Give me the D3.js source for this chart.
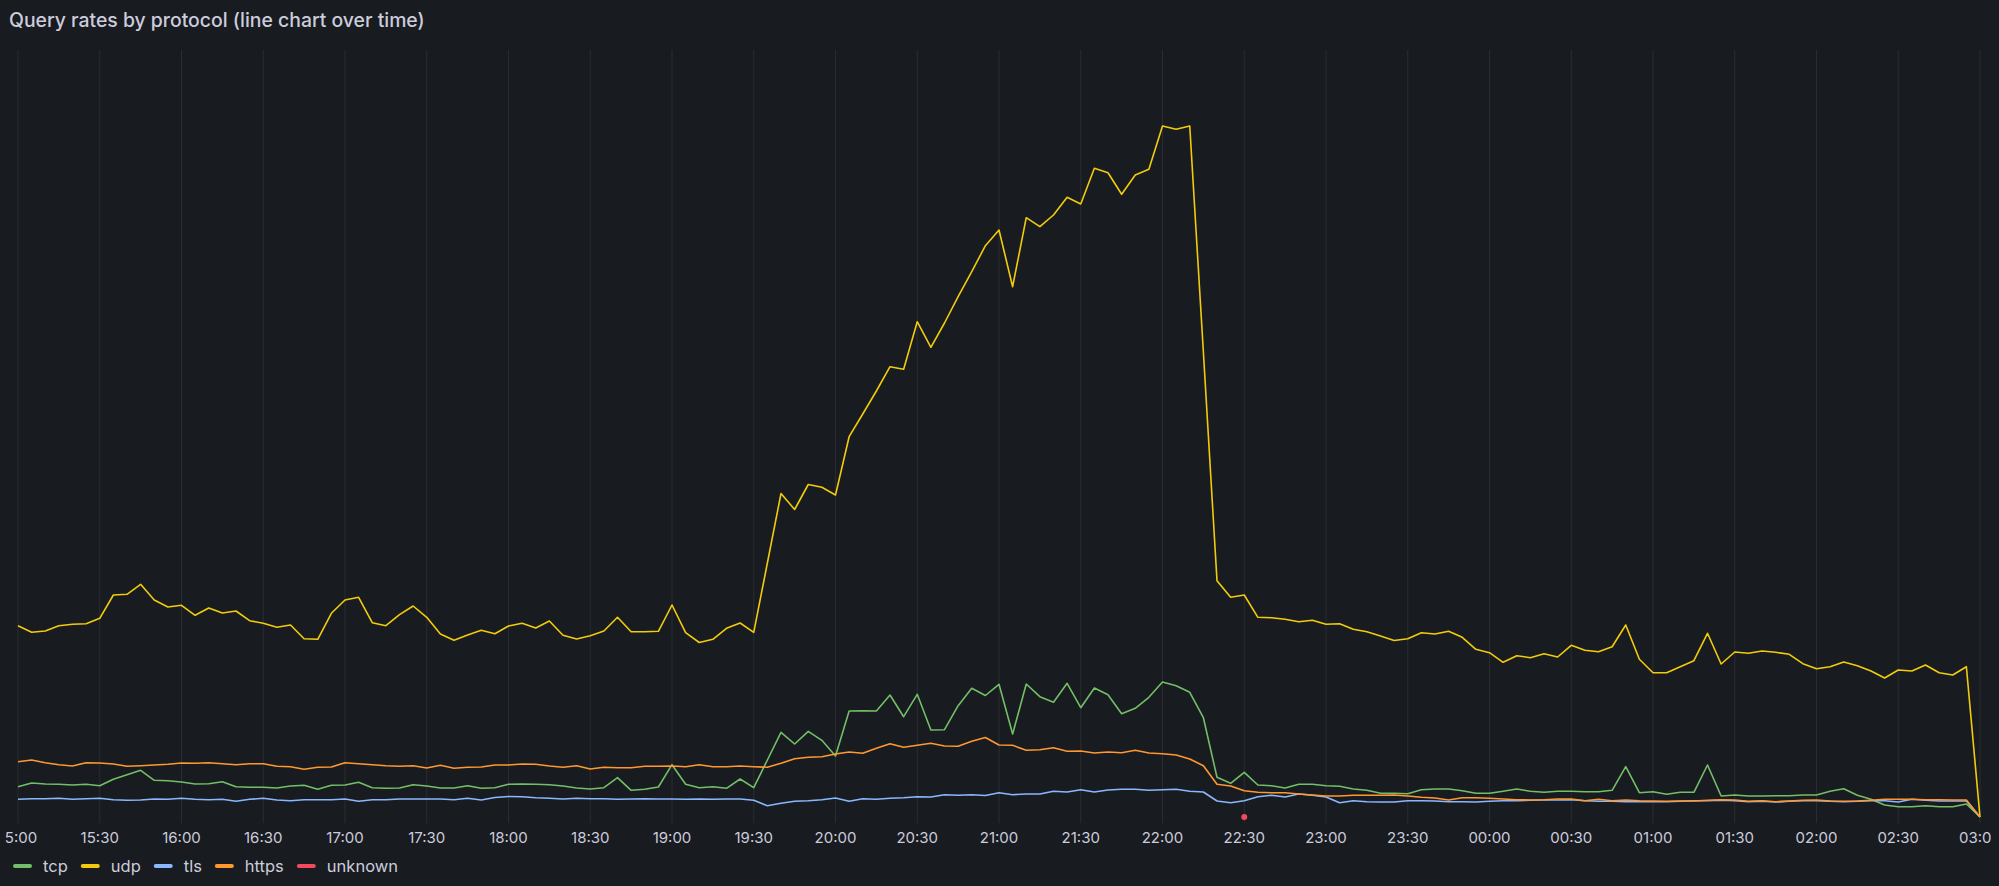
<!DOCTYPE html>
<html>
<head>
<meta charset="utf-8">
<script src="https://cdn.jsdelivr.net/npm/d3@7"></script>
<style>
  html, body { margin: 0; padding: 0; background: #181b1f; }
  svg { display: block; font-family: Inter, "Noto Sans", sans-serif; }
</style>
</head>
<body>
<svg id="chart"></svg>
<script>
// 5 minute samples, 15:00 -> 03:00 next day (145 points)
const startTime = new Date(2024, 0, 1, 15, 0);
const stepMinutes = 5;

const tcp = [
  303, 340, 330, 327, 320, 327, 313, 377, 423, 467, 367, 363, 350, 330, 333, 353, 303, 297, 297, 290,
  310, 317, 277, 317, 320, 347, 293, 287, 290, 323, 310, 290, 290, 313, 287, 293, 327, 330, 327, 323,
  310, 290, 280, 293, 393, 267, 277, 300, 523, 327, 293, 303, 287, 380, 293, 570, 847, 730, 857, 767,
  610, 1060, 1063, 1060, 1220, 1003, 1227, 870, 873, 1113, 1287, 1215, 1327, 830, 1330, 1203, 1147, 1337, 1093, 1290,
  1223, 1033, 1087, 1197, 1350, 1313, 1247, 993, 397, 337, 447, 320, 313, 290, 327, 327, 313, 307, 280, 267,
  237, 237, 233, 273, 280, 280, 263, 238, 237, 257, 280, 257, 247, 257, 257, 253, 253, 267, 503, 243,
  253, 227, 247, 247, 520, 210, 220, 210, 210, 213, 213, 220, 220, 257, 283, 217, 177, 120, 103, 103,
  113, 103, 103, 130, 0
];

const udp = [
  1913, 1847, 1860, 1913, 1927, 1933, 1987, 2220, 2227, 2327, 2170, 2100, 2117, 2017, 2090, 2040, 2060, 1963, 1937, 1897,
  1920, 1783, 1777, 2037, 2170, 2197, 1943, 1913, 2023, 2110, 1997, 1830, 1767, 1820, 1867, 1833, 1910, 1937, 1890, 1960,
  1817, 1780, 1813, 1860, 1997, 1853, 1853, 1857, 2120, 1843, 1745, 1777, 1887, 1940, 1847, 2540, 3235, 3075, 3325, 3297,
  3220, 3803, 4030, 4260, 4503, 4477, 4953, 4697, 4940, 5203, 5453, 5713, 5870, 5303, 5993, 5903, 6020, 6197, 6130, 6487,
  6443, 6227, 6420, 6477, 6910, 6877, 6910, 4650, 2363, 2197, 2220, 1997, 1993, 1977, 1953, 1967, 1927, 1933, 1877, 1853,
  1810, 1765, 1783, 1843, 1830, 1857, 1797, 1677, 1643, 1547, 1613, 1593, 1633, 1600, 1717, 1667, 1653, 1703, 1920, 1577,
  1443, 1443, 1503, 1563, 1837, 1530, 1650, 1637, 1660, 1647, 1627, 1533, 1483, 1503, 1550, 1513, 1460, 1390, 1470, 1460,
  1520, 1443, 1420, 1503, 0
];

const tls = [
  177, 183, 183, 187, 177, 183, 187, 173, 167, 170, 180, 177, 187, 177, 173, 177, 157, 177, 187, 170,
  163, 173, 173, 173, 180, 157, 173, 173, 180, 180, 180, 180, 173, 187, 170, 195, 205, 203, 193, 187,
  180, 187, 183, 183, 177, 180, 183, 180, 180, 177, 180, 177, 180, 180, 167, 113, 137, 157, 163, 173,
  190, 157, 183, 177, 187, 193, 203, 200, 223, 217, 223, 215, 243, 223, 230, 230, 257, 250, 273, 250,
  270, 277, 277, 267, 273, 277, 257, 250, 160, 143, 163, 203, 217, 200, 230, 217, 200, 143, 163, 153,
  150, 150, 163, 163, 160, 153, 153, 150, 157, 163, 163, 167, 170, 170, 173, 163, 157, 157, 153, 153,
  153, 153, 157, 163, 163, 167, 163, 153, 157, 150, 157, 163, 163, 157, 153, 157, 163, 163, 150, 177,
  167, 160, 160, 160, 0
];

const https = [
  553, 570, 543, 523, 510, 543, 540, 530, 507, 513, 520, 527, 540, 537, 543, 533, 523, 533, 533, 507,
  503, 477, 497, 500, 543, 533, 523, 513, 507, 513, 490, 517, 487, 497, 500, 520, 520, 530, 527, 510,
  497, 513, 480, 497, 493, 493, 507, 507, 510, 503, 523, 503, 503, 510, 503, 497, 537, 583, 597, 603,
  630, 650, 637, 687, 733, 697, 717, 737, 710, 707, 757, 795, 720, 717, 667, 673, 693, 657, 660, 640,
  650, 643, 667, 640, 633, 620, 580, 513, 327, 310, 263, 247, 243, 243, 230, 220, 210, 210, 217, 217,
  217, 220, 210, 197, 190, 170, 193, 193, 187, 180, 173, 170, 173, 180, 180, 163, 177, 163, 170, 163,
  160, 157, 160, 160, 167, 173, 170, 157, 163, 153, 160, 167, 170, 160, 157, 160, 167, 177, 177, 177,
  173, 173, 170, 170, 0
];

// unknown only reports one sample
const unknownTimes = ["22:30"];
const unknownValues = [0];

const seriesNames = ["tcp", "udp", "tls", "https", "unknown"];
const seriesColors = ["#73BF69", "#F2CC0C", "#8AB8FF", "#FF9830", "#F2495C"];

const width = 1999;
const height = 886;

const svg = d3.select("#chart").attr("width", width).attr("height", height);

svg.append("rect")
  .attr("width", width)
  .attr("height", height)
  .attr("fill", "#181b1f");

svg.append("text")
  .attr("x", 9)
  .attr("y", 27)
  .attr("fill", "#ccccdc")
  .attr("font-size", 19.4)
  .attr("font-weight", 500)
  .text("Query rates by protocol (line chart over time)");

const endTime = d3.timeMinute.offset(startTime, stepMinutes * (udp.length - 1));
const times = udp.map((v, i) => d3.timeMinute.offset(startTime, i * stepMinutes));

const x = d3.scaleTime().domain([startTime, endTime]).range([18, 1980]);
const y = d3.scaleLinear().domain([0, 7650]).range([817, 52]);

const ticks = d3.timeMinute.every(30).range(startTime, d3.timeMinute.offset(endTime, 1));

// vertical grid
svg.append("g")
  .selectAll("line")
  .data(ticks)
  .join("line")
  .attr("x1", (d) => x(d))
  .attr("x2", (d) => x(d))
  .attr("y1", 50)
  .attr("y2", 823)
  .attr("stroke", "#2a2c31")
  .attr("stroke-width", 1);

// panel content area clips the outer axis labels, like the source panel
svg.append("clipPath")
  .attr("id", "panel-clip")
  .append("rect")
  .attr("x", 5)
  .attr("y", 0)
  .attr("width", 1986)
  .attr("height", height);

// x axis labels
svg.append("g")
  .attr("clip-path", "url(#panel-clip)")
  .selectAll("text")
  .data(ticks)
  .join("text")
  .attr("x", (d) => x(d))
  .attr("y", 843)
  .attr("text-anchor", "middle")
  .attr("fill", "#ccccdc")
  .attr("font-size", 15)
  .text(d3.timeFormat("%H:%M"));

const line = d3.line()
  .x((d) => x(d.t))
  .y((d) => y(d.v));

const series = [tcp, udp, tls, https];
series.forEach((values, k) => {
  const pts = values.map((v, i) => ({ t: times[i], v: v }));
  svg.append("path")
    .datum(pts)
    .attr("fill", "none")
    .attr("stroke", seriesColors[k])
    .attr("stroke-width", 1.6)
    .attr("stroke-linejoin", "round")
    .attr("d", line);
});

// unknown: single point, drawn as dot
const parseHM = (s) => {
  const [h, m] = s.split(":").map(Number);
  const d = new Date(startTime);
  if (h < 15) d.setDate(d.getDate() + 1);
  d.setHours(h, m, 0, 0);
  return d;
};
svg.append("g")
  .selectAll("circle")
  .data(unknownTimes.map((t, i) => ({ t: parseHM(t), v: unknownValues[i] })))
  .join("circle")
  .attr("cx", (d) => x(d.t))
  .attr("cy", (d) => y(d.v))
  .attr("r", 3)
  .attr("fill", seriesColors[4]);

// legend
const legend = svg.append("g");
let lx = 13;
seriesNames.forEach((name, k) => {
  legend.append("rect")
    .attr("x", lx)
    .attr("y", 864)
    .attr("width", 19)
    .attr("height", 4)
    .attr("rx", 2)
    .attr("fill", seriesColors[k]);
  const t = legend.append("text")
    .attr("x", lx + 30)
    .attr("y", 871.5)
    .attr("fill", "#ccccdc")
    .attr("font-size", 16.5)
    .text(name);
  lx += 30 + t.node().getComputedTextLength() + 13;
});
</script>
</body>
</html>
